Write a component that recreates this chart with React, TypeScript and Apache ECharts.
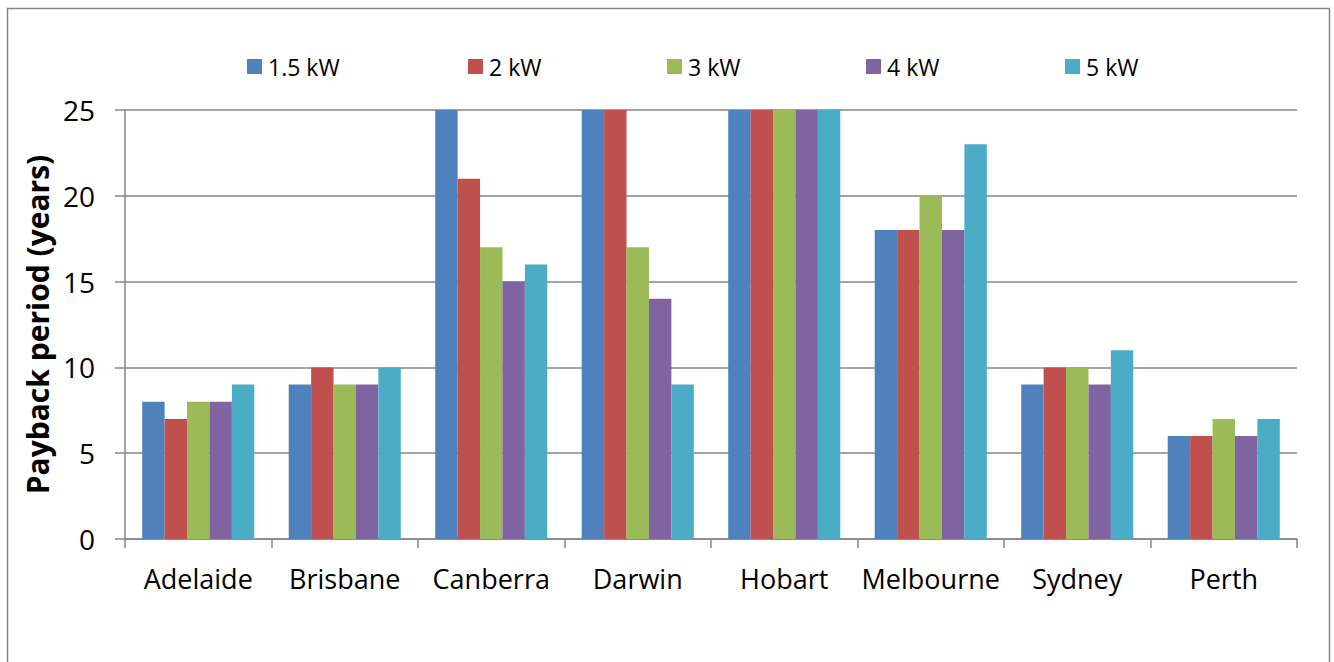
import React, { useEffect, useRef } from "react";
import * as echarts from "echarts";

const categories = ["Adelaide", "Brisbane", "Canberra", "Darwin", "Hobart", "Melbourne", "Sydney", "Perth"];
const seriesNames = ["1.5 kW", "2 kW", "3 kW", "4 kW", "5 kW"];
const kw15 = [8, 9, 25, 25, 25, 18, 9, 6];
const kw2 = [7, 10, 21, 25, 25, 18, 10, 6];
const kw3 = [8, 9, 17, 17, 25, 20, 10, 7];
const kw4 = [8, 9, 15, 14, 25, 18, 9, 6];
const kw5 = [9, 10, 16, 9, 25, 23, 11, 7];
const seriesValues = [kw15, kw2, kw3, kw4, kw5];
const colors = ["#4F81BD", "#C0504D", "#9BBB59", "#8064A2", "#4BACC6"];
const legendLefts = [247, 468, 667, 866, 1065];

const FONT = "Open Sans";

export default function App() {
  const ref = useRef<HTMLDivElement>(null);
  useEffect(() => {
    const chart = echarts.init(ref.current!, undefined, { renderer: "svg" });
    chart.setOption({
      animation: false,
      backgroundColor: "#fff",
      textStyle: { fontFamily: FONT },
      graphic: [
        {
          type: "rect",
          shape: { x: 7.5, y: 8.5, width: 1322, height: 670 },
          style: { fill: "none", stroke: "#868686", lineWidth: 1.5 },
          silent: true,
        },
      ],
      legend: seriesNames.map((n, i) => ({
        data: [n],
        left: legendLefts[i],
        top: 54,
        padding: 0,
        itemWidth: 15,
        itemHeight: 15,
        itemGap: 6,
        icon: "rect",
        textStyle: { fontFamily: FONT, fontSize: 23, lineHeight: 25, color: "#000", padding: [0, 0, 0, 1] },
        selectedMode: false,
      })),
      grid: { left: 125, right: 37, top: 110, bottom: 123, containLabel: false },
      xAxis: {
        type: "category",
        data: categories,
        axisLine: { lineStyle: { color: "#868686", width: 1.5 } },
        axisTick: { show: true, length: 9, lineStyle: { color: "#868686", width: 1.5 } },
        axisLabel: { color: "#000", fontSize: 27, margin: 26, interval: 0, fontFamily: FONT },
      },
      yAxis: {
        type: "value",
        min: 0,
        max: 25,
        interval: 5,
        name: "Payback period (years)",
        nameLocation: "middle",
        nameGap: 72,
        nameTextStyle: { fontSize: 30, fontWeight: "bold", color: "#000", fontFamily: FONT },
        axisLine: { show: true, lineStyle: { color: "#868686", width: 1.5 } },
        axisTick: { show: true, length: 10, lineStyle: { color: "#868686", width: 1.5 } },
        axisLabel: { color: "#000", fontSize: 28, margin: 30, fontFamily: FONT },
        splitLine: { show: true, lineStyle: { color: "#868686", width: 1.5 } },
      },
      series: seriesNames.map((n, i) => ({
        name: n,
        type: "bar",
        data: seriesValues[i],
        itemStyle: { color: colors[i] },
        barGap: "0%",
        barCategoryGap: "23.5%",
      })),
    });
    return () => chart.dispose();
  }, []);
  return <div ref={ref} style={{ position: "fixed", left: 0, top: 0, width: 1334, height: 662 }} />;
}
